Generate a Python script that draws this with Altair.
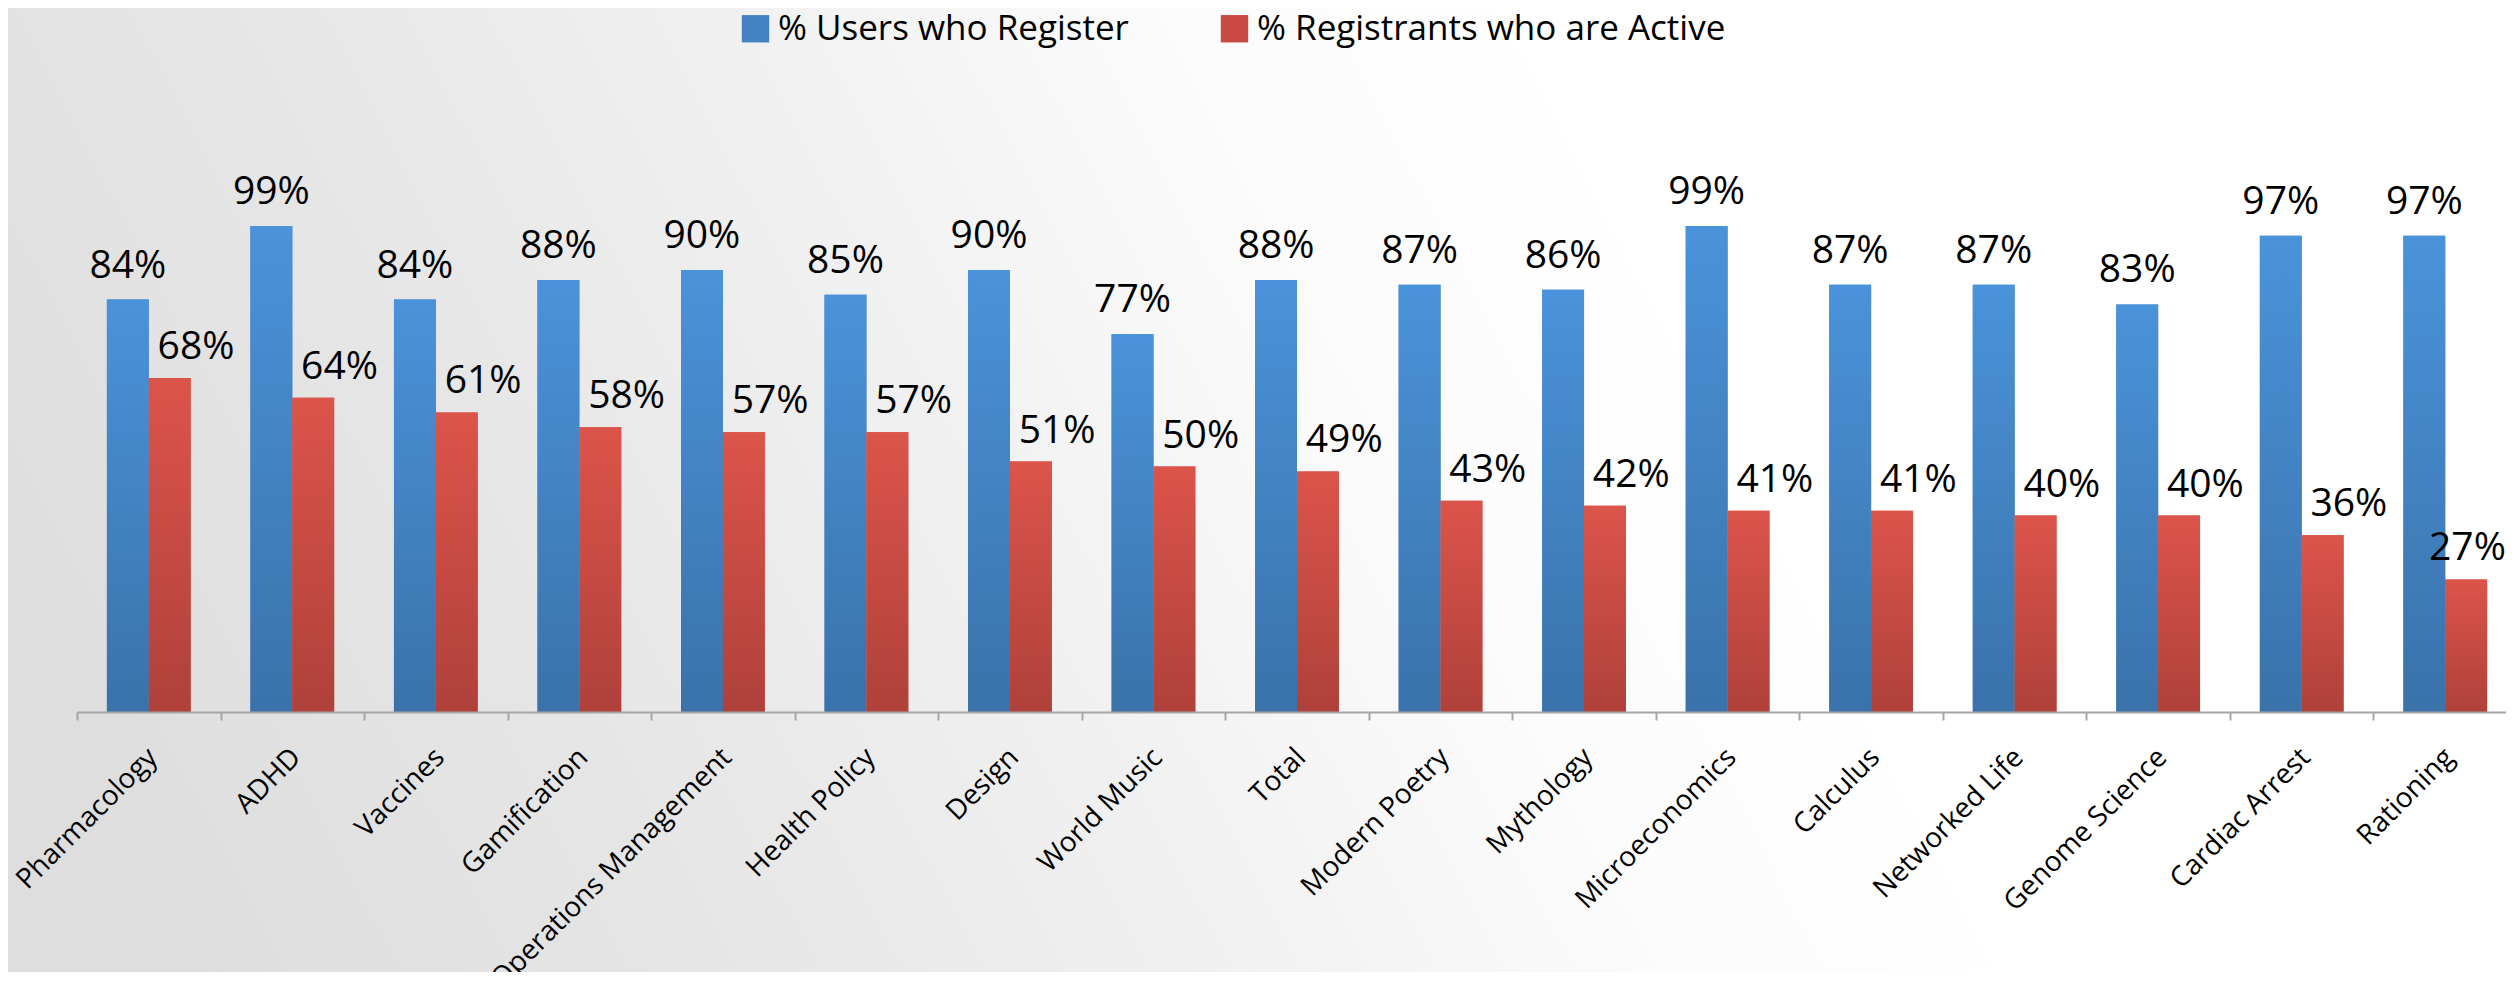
import altair as alt
import pandas as pd

courses = ["Pharmacology", "ADHD", "Vaccines", "Gamification", "Operations Management",
           "Health Policy", "Design", "World Music", "Total", "Modern Poetry", "Mythology",
           "Microeconomics", "Calculus", "Networked Life", "Genome Science", "Cardiac Arrest",
           "Rationing"]
register = [84, 99, 84, 88, 90, 85, 90, 77, 88, 87, 86, 99, 87, 87, 83, 97, 97]
active = [68, 64, 61, 58, 57, 57, 51, 50, 49, 43, 42, 41, 41, 40, 40, 36, 27]
series = ["% Users who Register", "% Registrants who are Active"]

rows = []
for c, r, a in zip(courses, register, active):
    rows.append({"Course": c, "Series": series[0], "Value": r / 100})
    rows.append({"Course": c, "Series": series[1], "Value": a / 100})
df = pd.DataFrame(rows)

FONT = "Open Sans"
W, H = 2429, 491

blue_grad = alt.Gradient(gradient="linear",
                         stops=[alt.GradientStop(color="#4a93da", offset=0),
                                alt.GradientStop(color="#3a72aa", offset=1)],
                         x1=0, x2=0, y1=0, y2=1)
red_grad = alt.Gradient(gradient="linear",
                        stops=[alt.GradientStop(color="#dc544a", offset=0),
                               alt.GradientStop(color="#af413a", offset=1)],
                        x1=0, x2=0, y1=0, y2=1)
bg_grad = alt.Gradient(gradient="linear",
                       stops=[alt.GradientStop(color="#dedede", offset=0),
                              alt.GradientStop(color="#e6e6e6", offset=0.2),
                              alt.GradientStop(color="#f1f1f1", offset=0.4),
                              alt.GradientStop(color="#fbfbfb", offset=0.55),
                              alt.GradientStop(color="#ffffff", offset=0.7),
                              alt.GradientStop(color="#ffffff", offset=1)],
                       x1=0, x2=1, y1=0.6, y2=0.4)

backdrop = alt.Chart(pd.DataFrame({"k": [0]})).mark_rect(color=bg_grad).encode(
    x=alt.value(-69), x2=alt.value(W), y=alt.value(-213), y2=alt.value(H + 260)
)

x_enc = alt.X("Course:N", sort=courses,
              scale=alt.Scale(paddingInner=0, paddingOuter=0, range=[0, 2440]),
              axis=alt.Axis(title=None, labelAngle=-45, labelAlign="right", labelBaseline="middle",
                            labelFontSize=28, labelFont=FONT, labelColor="black", labelLimit=0,
                            labelOverlap=False, labelPadding=33, labelOffset=4,
                            tickBand="extent", tickSize=8,
                            tickColor="#a6a6a6", tickWidth=2, domainColor="#a6a6a6", domainWidth=2,
                            grid=False, zindex=2))
y_enc = alt.Y("Value:Q", scale=alt.Scale(domain=[0, 1], nice=False), axis=None)

base = alt.Chart(df).encode(
    x=x_enc,
    xOffset=alt.XOffset("Series:N", sort=series,
                        scale=alt.Scale(domain=series, paddingInner=0, paddingOuter=0.714)),
    y=y_enc,
)

legend_bars = base.mark_bar().encode(
    color=alt.Color("Series:N", sort=series,
                    scale=alt.Scale(domain=series, range=["#4383c4", "#c94a42"]),
                    legend=alt.Legend(title=None, orient="none", legendX=661, legendY=-210,
                                      direction="horizontal", symbolType="square", symbolSize=750,
                                      symbolStrokeWidth=0, labelFontSize=35, labelFont=FONT,
                                      labelColor="black", labelOffset=5, columnPadding=88,
                                      padding=0, labelLimit=0))
)

blue_bars = base.transform_filter(alt.datum.Series == series[0]).mark_bar(color=blue_grad)
red_bars = base.transform_filter(alt.datum.Series == series[1]).mark_bar(color=red_grad)

blue_text = base.transform_filter(alt.datum.Series == series[0]).mark_text(
    dy=-22, baseline="alphabetic", fontSize=39, font=FONT, color="black"
).encode(text=alt.Text("Value:Q", format=".0%"))

red_src = alt.Chart(df).transform_filter(alt.datum.Series == series[1])
red_text_main = red_src.transform_filter(alt.datum.Course != courses[-1]).mark_text(
    dy=-19, baseline="alphabetic", fontSize=39, font=FONT, color="black"
).encode(x=alt.X("Course:N", sort=courses), xOffset=alt.value(119), y=y_enc,
         text=alt.Text("Value:Q", format=".0%"))
red_text_edge = red_src.transform_filter(alt.datum.Course == courses[-1]).mark_text(
    dy=-19, baseline="alphabetic", fontSize=39, font=FONT, color="black"
).encode(x=alt.X("Course:N", sort=courses), xOffset=alt.value(94), y=y_enc,
         text=alt.Text("Value:Q", format=".0%"))

chart = alt.layer(backdrop, legend_bars, blue_bars, red_bars, blue_text,
                  red_text_main, red_text_edge).properties(
    width=W, height=H, autosize="none",
    padding={"left": 69, "top": 213, "right": 0, "bottom": 260},
    background="#ffffff",
).configure_view(stroke=None)

chart.save("out.html", embed_options={"renderer": "svg", "actions": False})
